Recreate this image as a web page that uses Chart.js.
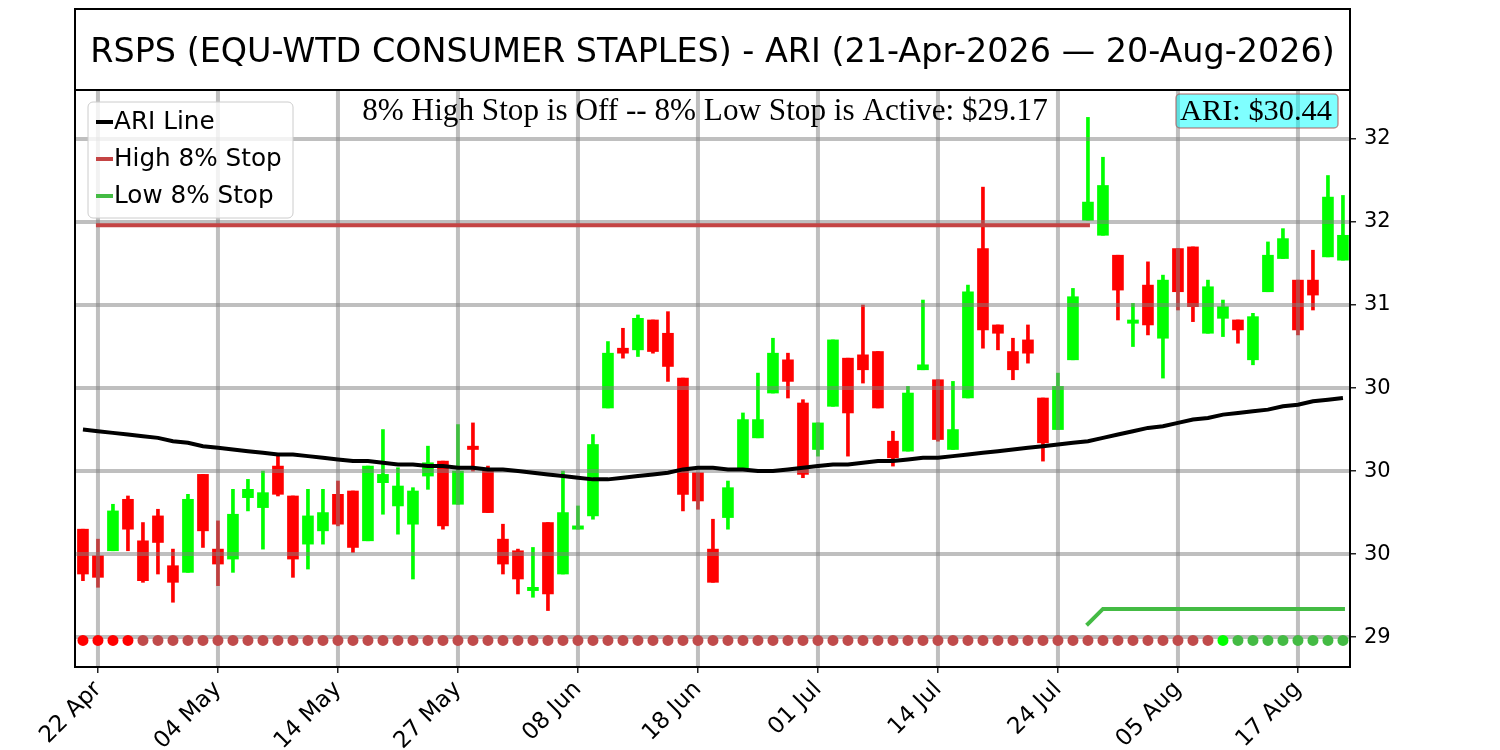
<!DOCTYPE html>
<html lang="en">
<head>
<meta charset="UTF-8">
<title>RSPS ARI Chart</title>
<script src="https://cdn.jsdelivr.net/npm/chart.js"></script>
<style>
  body { margin: 0; background: #fff; }
</style>
</head>
<body>
<canvas id="ariChart" width="1500" height="750"></canvas>
<script>
// daily candles, 21-Apr-2026 .. 20-Aug-2026 (trading days)
const opens = [29.65, 29.49, 29.52, 29.83, 29.58, 29.73, 29.43, 29.39, 29.98, 29.53,
  29.47, 29.84, 29.78, 30.03, 29.85, 29.56, 29.64, 29.86, 29.88, 29.58,
  29.93, 29.79, 29.68, 29.97, 30.06, 29.80, 30.15, 30.00, 29.59, 29.52,
  29.28, 29.69, 29.38, 29.65, 29.73, 30.38, 30.74, 30.73, 30.91, 30.83,
  30.56, 29.99, 29.53, 29.72, 30.02, 30.20, 30.47, 30.67, 30.41, 30.13,
  30.39, 30.68, 30.70, 30.72, 30.18, 30.12, 30.61, 30.55, 30.13, 30.44,
  31.34, 30.88, 30.72, 30.79, 30.44, 30.25, 30.67, 31.51, 31.42, 31.30,
  30.89, 31.12, 30.80, 31.34, 31.35, 30.83, 30.92, 30.91, 30.67, 31.08,
  31.28, 31.15, 31.15, 31.29, 31.27];
const highs = [29.65, 29.59, 29.80, 29.85, 29.69, 29.77, 29.53, 29.86, 29.98, 29.70,
  29.89, 29.95, 30.00, 30.09, 29.85, 29.89, 29.89, 29.94, 29.88, 30.03,
  30.25, 30.02, 29.90, 30.15, 30.06, 30.28, 30.29, 30.03, 29.68, 29.53,
  29.54, 29.69, 30.00, 29.79, 30.22, 30.78, 30.86, 30.94, 30.91, 30.96,
  30.56, 29.99, 29.71, 29.94, 30.35, 30.59, 30.80, 30.71, 30.43, 30.29,
  30.79, 30.68, 31.00, 30.72, 30.24, 30.51, 31.03, 30.55, 30.54, 31.12,
  31.71, 30.88, 30.80, 30.88, 30.44, 30.59, 31.10, 32.13, 31.89, 31.30,
  31.01, 31.26, 31.18, 31.34, 31.35, 31.15, 31.03, 30.91, 30.95, 31.38,
  31.46, 31.15, 31.33, 31.78, 31.66];
const lows = [29.34, 29.30, 29.52, 29.52, 29.33, 29.38, 29.21, 29.39, 29.54, 29.31,
  29.39, 29.76, 29.53, 29.85, 29.36, 29.41, 29.56, 29.67, 29.51, 29.58,
  29.74, 29.62, 29.35, 29.89, 29.65, 29.80, 30.00, 29.75, 29.38, 29.26,
  29.24, 29.16, 29.38, 29.65, 29.71, 30.38, 30.68, 30.69, 30.71, 30.54,
  29.76, 29.77, 29.33, 29.65, 30.02, 30.20, 30.47, 30.44, 29.96, 30.09,
  30.39, 30.09, 30.53, 30.38, 30.03, 30.12, 30.61, 30.18, 30.13, 30.44,
  30.74, 30.73, 30.55, 30.65, 30.06, 30.25, 30.67, 31.51, 31.42, 30.91,
  30.75, 30.82, 30.56, 30.97, 30.90, 30.83, 30.81, 30.77, 30.64, 31.08,
  31.28, 30.82, 30.97, 31.29, 31.27];
const closes = [29.38, 29.36, 29.76, 29.65, 29.34, 29.57, 29.33, 29.83, 29.64, 29.44,
  29.74, 29.89, 29.87, 29.86, 29.47, 29.73, 29.75, 29.68, 29.54, 30.03,
  29.98, 29.91, 29.88, 30.05, 29.67, 30.00, 30.13, 29.75, 29.44, 29.35,
  29.30, 29.26, 29.75, 29.67, 30.16, 30.71, 30.71, 30.92, 30.72, 30.63,
  29.86, 29.82, 29.33, 29.90, 30.31, 30.31, 30.71, 30.54, 29.98, 30.29,
  30.79, 30.35, 30.61, 30.38, 30.08, 30.47, 30.64, 30.19, 30.25, 31.08,
  30.85, 30.83, 30.61, 30.71, 30.17, 30.51, 31.05, 31.62, 31.72, 31.09,
  30.91, 30.88, 31.15, 31.08, 30.99, 31.11, 30.99, 30.85, 30.93, 31.30,
  31.40, 30.85, 31.06, 31.65, 31.42];

// ARI line
const ariLine = [30.25, 30.24, 30.23, 30.22, 30.21, 30.20, 30.18, 30.17, 30.15, 30.14,
  30.13, 30.12, 30.11, 30.10, 30.10, 30.09, 30.08, 30.07, 30.06, 30.06,
  30.05, 30.04, 30.04, 30.03, 30.03, 30.02, 30.02, 30.01, 30.01, 30.00,
  29.99, 29.98, 29.97, 29.96, 29.95, 29.95, 29.96, 29.97, 29.98, 29.99,
  30.01, 30.02, 30.02, 30.01, 30.01, 30.00, 30.00, 30.01, 30.02, 30.03,
  30.04, 30.04, 30.05, 30.06, 30.06, 30.07, 30.08, 30.08, 30.09, 30.10,
  30.11, 30.12, 30.13, 30.14, 30.15, 30.16, 30.17, 30.18, 30.20, 30.22,
  30.24, 30.26, 30.27, 30.29, 30.31, 30.32, 30.34, 30.35, 30.36, 30.37,
  30.39, 30.40, 30.42, 30.43, 30.44];

// stops: [day index, level]
const highStop = [[1, 31.48], [67, 31.48]];
const lowStop = [[67, 29.08], [68, 29.17], [84, 29.17]];

// signal dots along the bottom: R/G = fresh signal, r/g = continuing
const dotSignal = 'RRRR' + 'r'.repeat(72) + 'G' + 'g'.repeat(8);
const dotLevel = 28.98;

const xTickIndex = [1, 9, 17, 25, 33, 41, 49, 57, 65, 73, 81];
const xTickLabels = ['22 Apr', '04 May', '14 May', '27 May', '08 Jun', '18 Jun',
  '01 Jul', '14 Jul', '24 Jul', '05 Aug', '17 Aug'];
const yTickValues = [29, 29.5, 30, 30.5, 31, 31.5, 32];
const yTickLabels = ['29', '30', '30', '30', '31', '32', '32'];

const titleText = 'RSPS (EQU-WTD CONSUMER STAPLES) - ARI (21-Apr-2026 \u2014 20-Aug-2026)';
const noteText = '8% High Stop is Off -- 8% Low Stop is Active: $29.17';
const ariText = 'ARI: $30.44';

const UP = '#00ff00', DOWN = '#ff0000';
const candleColors = opens.map((o, i) => closes[i] >= o ? UP : DOWN);
const dotColors = {R: '#ff0000', r: '#c04b4b', G: '#00ff00', g: '#44bb44'};

const sans = 'DejaVu Sans';
const serif = '"Liberation Serif", "Times New Roman", serif';

const overlay = {
    id: 'overlay',
    afterDatasetDraw(chart, args) {
        // grid sits above the candles but under the lines
        if (chart.data.datasets[args.index].id !== 'bodies') return;
        const { ctx, chartArea: a, scales: { x, y } } = chart;
        ctx.save();
        ctx.beginPath();
        ctx.rect(a.left, a.top, a.width, a.height);
        ctx.clip();
        ctx.strokeStyle = 'rgba(128,128,128,0.5)';
        ctx.lineWidth = 4;
        x.ticks.forEach(t => {
            const px = x.getPixelForValue(t.value);
            ctx.beginPath(); ctx.moveTo(px, a.top); ctx.lineTo(px, a.bottom); ctx.stroke();
        });
        y.ticks.forEach(t => {
            const py = y.getPixelForValue(t.value);
            ctx.beginPath(); ctx.moveTo(a.left, py); ctx.lineTo(a.right, py); ctx.stroke();
        });
        ctx.restore();
    },
    afterDraw(chart) {
        const { ctx, chartArea: a } = chart;
        ctx.save();

        // frame + title box
        ctx.strokeStyle = '#000';
        ctx.lineWidth = 2;
        ctx.strokeRect(a.left, a.top, a.width, a.height);
        ctx.strokeRect(a.left, 9, a.width, a.top - 9);
        ctx.fillStyle = '#000';
        ctx.font = '33.4px ' + sans;
        ctx.textAlign = 'center';
        ctx.textBaseline = 'alphabetic';
        ctx.fillText(titleText, (a.left + a.right) / 2, 62);

        // stop note
        ctx.font = '31.2px ' + serif;
        ctx.fillText(noteText, 705, 120);

        // ARI value box
        ctx.beginPath();
        ctx.roundRect(1176, 94, 162, 34, 4);
        ctx.fillStyle = 'rgba(0,255,255,0.5)';
        ctx.fill();
        ctx.strokeStyle = 'rgba(170,80,80,0.6)';
        ctx.lineWidth = 1.5;
        ctx.stroke();
        ctx.fillStyle = '#000';
        ctx.textAlign = 'left';
        ctx.font = '30.4px ' + serif;
        ctx.fillText(ariText, 1180, 120);

        // legend
        ctx.beginPath();
        ctx.roundRect(88, 102, 205, 116, 5);
        ctx.fillStyle = 'rgba(255,255,255,0.8)';
        ctx.fill();
        ctx.strokeStyle = '#cccccc';
        ctx.lineWidth = 1;
        ctx.stroke();
        ctx.font = '24.7px ' + sans;
        ctx.textBaseline = 'middle';
        const items = chart.data.datasets.filter(d => d.inLegend);
        items.forEach((d, k) => {
            const yy = 122 + k * 37;
            ctx.strokeStyle = d.borderColor;
            ctx.lineWidth = 4;
            ctx.beginPath(); ctx.moveTo(96, yy); ctx.lineTo(113, yy); ctx.stroke();
            ctx.fillStyle = '#000';
            ctx.fillText(d.label, 114, yy + 1);
        });
        ctx.restore();
    }
};

const idx = opens.map((_, i) => i);

new Chart(document.getElementById('ariChart'), {
    type: 'line',
    data: {
        datasets: [
            {
                type: 'line', label: 'signals', order: 0,
                data: idx.map(i => ({ x: i, y: dotLevel })),
                showLine: false, pointRadius: 5.5, pointBorderWidth: 0,
                pointBackgroundColor: idx.map(i => dotColors[dotSignal[i]])
            },
            {
                type: 'line', label: 'ARI Line', order: 1, inLegend: true,
                data: ariLine.map((v, i) => ({ x: i, y: v })),
                borderColor: '#000', borderWidth: 4, pointRadius: 0
            },
            {
                type: 'line', label: 'High 8% Stop', order: 2, inLegend: true,
                data: highStop.map(([i, v]) => ({ x: i, y: v })),
                borderColor: '#c44444', borderWidth: 4, pointRadius: 0, borderCapStyle: 'square'
            },
            {
                type: 'line', label: 'Low 8% Stop', order: 3, inLegend: true,
                data: lowStop.map(([i, v]) => ({ x: i, y: v })),
                borderColor: '#44bb44', borderWidth: 4, pointRadius: 0, borderCapStyle: 'square'
            },
            {
                type: 'bar', id: 'bodies', label: 'bodies', order: 4, grouped: false,
                data: idx.map(i => ({ x: i, y: [opens[i], closes[i]] })),
                backgroundColor: candleColors, barThickness: 11
            },
            {
                type: 'bar', label: 'wicks', order: 5, grouped: false,
                data: idx.map(i => ({ x: i, y: [lows[i], highs[i]] })),
                backgroundColor: candleColors, barThickness: 3
            }
        ]
    },
    options: {
        responsive: false,
        animation: false,
        events: [],
        layout: { padding: { left: 75, top: 90, right: 0, bottom: 0 } },
        plugins: { legend: { display: false }, tooltip: { enabled: false } },
        scales: {
            x: {
                type: 'linear', min: -0.53, max: 84.47, offset: false,
                afterBuildTicks: s => { s.ticks = xTickIndex.map(v => ({ value: v })); },
                afterFit: s => { s.height = 83; },
                grid: { drawOnChartArea: false, offset: false, tickLength: 6, color: '#222', lineWidth: 1.5 },
                border: { display: true, color: '#222', width: 2 },
                ticks: {
                    autoSkip: false, maxRotation: 45, minRotation: 45, padding: 3,
                    color: '#000', font: { family: sans, size: 23 },
                    callback: (v, i) => xTickLabels[i]
                }
            },
            y: {
                type: 'linear', position: 'right', min: 28.82, max: 32.295,
                afterBuildTicks: s => { s.ticks = yTickValues.map(v => ({ value: v })); },
                afterFit: s => { s.width = 150; },
                grid: { drawOnChartArea: false, tickLength: 6, color: '#222', lineWidth: 1.5 },
                border: { display: true, color: '#222', width: 2 },
                ticks: {
                    padding: 8, color: '#000', font: { family: sans, size: 21 },
                    callback: (v, i) => yTickLabels[i]
                }
            }
        }
    },
    plugins: [overlay]
});
</script>
</body>
</html>
